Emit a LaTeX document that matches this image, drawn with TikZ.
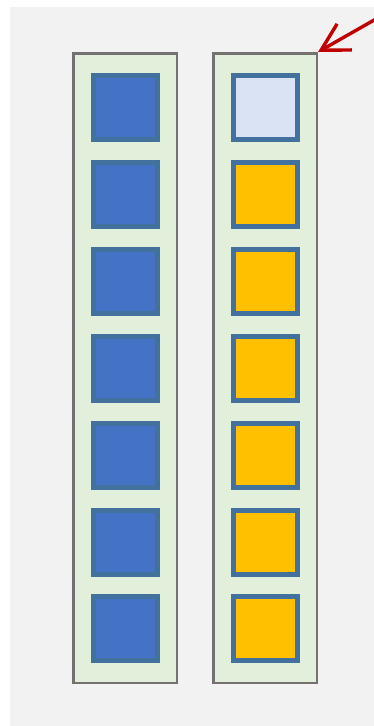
\documentclass[tikz,border=0pt]{standalone}
\usetikzlibrary{arrows.meta}
\definecolor{bggray}{HTML}{F2F2F2}
\definecolor{colfill}{HTML}{E2EFDA}
\definecolor{colline}{HTML}{767171}
\definecolor{sqline}{HTML}{41719C}
\definecolor{sqblue}{HTML}{4472C4}
\definecolor{sqlight}{HTML}{DAE3F3}
\definecolor{sqyellow}{HTML}{FFC000}
\definecolor{arrred}{HTML}{C00000}
\begin{document}
\begin{tikzpicture}[x=1pt,y=-1pt,
  column/.style={draw=colline,fill=colfill,line width=2.5pt,minimum width=103.5pt,minimum height=629.5pt,inner sep=0pt},
  cell/.style={draw=sqline,line width=5pt,minimum size=64pt,inner sep=0pt},
  bluecell/.style={cell,fill=sqblue},
  yellowcell/.style={cell,fill=sqyellow},
  lightcell/.style={cell,fill=sqlight}]
\useasboundingbox (0,0) rectangle (374,726);
\fill[bggray] (10,7) rectangle (374,726);
\node[column] (colA) at (125,368) {};
\node[column] (colB) at (265,368) {};
\foreach \i in {0,...,6}{
  \node[bluecell] (a\i) at (125.5,{107.5+86.9*\i}) {};
}
\node[lightcell] (b0) at (265.5,107.5) {};
\foreach \i in {1,...,6}{
  \node[yellowcell] (b\i) at (265.5,{107.5+86.9*\i}) {};
}
\coordinate (arrstart) at (390,11);
\draw[arrred,line width=3.4pt,-{Straight Barb[length=27pt,width=30pt,line width=3.4pt]}] (arrstart) -- (colB.north east);
\end{tikzpicture}
\end{document}
